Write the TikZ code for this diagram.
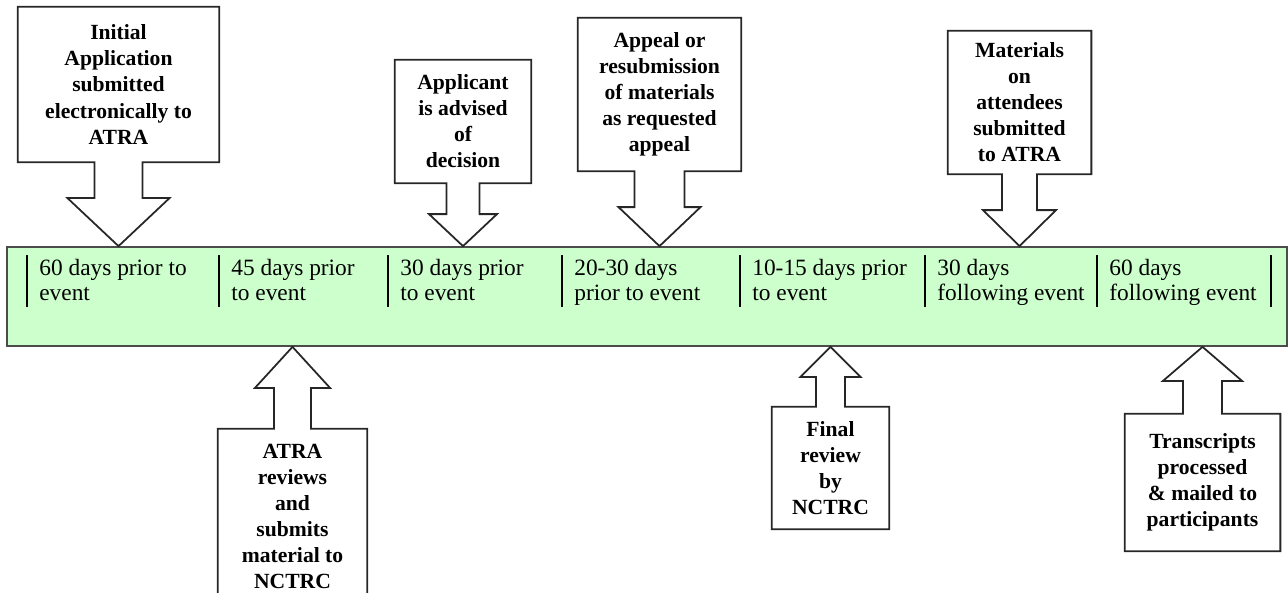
\documentclass[tikz,border=0pt]{standalone}
\usepackage{fontspec}
\setmainfont{Liberation Serif}
\usepackage{tikz}
\usetikzlibrary{calc}

\definecolor{barfill}{HTML}{CCFFCC}

% hollow block arrow from a note box to the timeline bar
\newcommand{\downcallout}[4]{%
  \draw[callout] (#1.south west) -- (#1.north west) -- (#1.north east)
    -- (#1.south east) -- ($(#1.south)+(#2,0)$)
    -- ($(#1.south |- bar.north)+(#2,#4)$) -- ($(#1.south |- bar.north)+(#3,#4)$)
    -- (#1.south |- bar.north)
    -- ($(#1.south |- bar.north)+(-#3,#4)$) -- ($(#1.south |- bar.north)+(-#2,#4)$)
    -- ($(#1.south)+(-#2,0)$) -- cycle;}
\newcommand{\upcallout}[4]{%
  \draw[callout] (#1.north west) -- (#1.south west) -- (#1.south east)
    -- (#1.north east) -- ($(#1.north)+(#2,0)$)
    -- ($(#1.north |- bar.south)+(#2,-#4)$) -- ($(#1.north |- bar.south)+(#3,-#4)$)
    -- (#1.north |- bar.south)
    -- ($(#1.north |- bar.south)+(-#3,-#4)$) -- ($(#1.north |- bar.south)+(-#2,-#4)$)
    -- ($(#1.north)+(-#2,0)$) -- cycle;}

\begin{document}
\begin{tikzpicture}

\tikzset{
  note/.style={rectangle, draw=none, align=center, inner sep=0pt,
    font=\fontsize{12.3}{14.8}\selectfont\bfseries},
  period/.style={anchor=north west, align=left, inner sep=0pt,
    font=\fontsize{13.3}{14.2}\selectfont},
  timeline/.style={rectangle, draw=black!70, line width=1pt, fill=barfill,
    minimum width=25.6cm, minimum height=1.98cm, inner sep=0pt},
  callout/.style={draw=black!85, line width=1pt},
  divider/.style={line width=1pt}
}

\useasboundingbox (0,0) rectangle (25.76,-11.84);

% ---- TIMELINE BAR ----
\node (bar) [timeline] at (12.94,-5.93) {};

\foreach \x/\txt [count=\i] in {
    0.54/{60 days prior to\\event},
    4.38/{45 days prior\\to event},
    7.76/{30 days prior\\to event},
    11.24/{20-30 days\\prior to event},
    14.80/{10-15 days prior\\to event},
    18.50/{30 days\\following event},
    21.94/{60 days\\following event}}{
  \draw[divider] (\x,-5.10) -- (\x,-6.14);
  \node (per\i) [period] at (\x+0.24,-5.18) {\txt};
}
\draw[divider] (25.42,-5.10) -- (25.42,-6.14);

% ---- NOTES ABOVE ----
\node (submit)  [note, minimum width=4.02cm, minimum height=3.10cm] at (2.37,-1.69)
  {Initial\\Application\\submitted\\electronically to\\ATRA};
\node (advised) [note, minimum width=2.72cm, minimum height=2.46cm] at (9.26,-2.43)
  {Applicant\\is advised\\of\\decision};
\node (appeal)  [note, minimum width=3.26cm, minimum height=3.06cm] at (13.19,-1.89)
  {Appeal or\\resubmission\\of materials\\as requested\\appeal};
\node (attend)  [note, minimum width=2.86cm, minimum height=2.86cm] at (20.39,-2.05)
  {Materials\\on\\attendees\\submitted\\to ATRA};

% ---- NOTES BELOW ----
\node (review)  [note, minimum width=2.98cm, minimum height=3.48cm] at (5.85,-10.32)
  {ATRA\\reviews\\and\\submits\\material to\\NCTRC};
\node (final)   [note, minimum width=2.34cm, minimum height=2.44cm] at (16.61,-9.36)
  {Final\\review\\by\\NCTRC};
\node (mailed)  [note, minimum width=3.10cm, minimum height=2.74cm] at (24.05,-9.65)
  {Transcripts\\processed\\\& mailed to\\participants};

% ---- CALLOUT ARROWS ----
\downcallout{submit}{0.48}{1.02}{0.96}
\downcallout{advised}{0.33}{0.68}{0.64}
\downcallout{appeal}{0.50}{0.82}{0.78}
\downcallout{attend}{0.35}{0.73}{0.72}
\upcallout{review}{0.37}{0.75}{0.82}
\upcallout{final}{0.29}{0.60}{0.60}
\upcallout{mailed}{0.39}{0.79}{0.68}

\end{tikzpicture}
\end{document}
